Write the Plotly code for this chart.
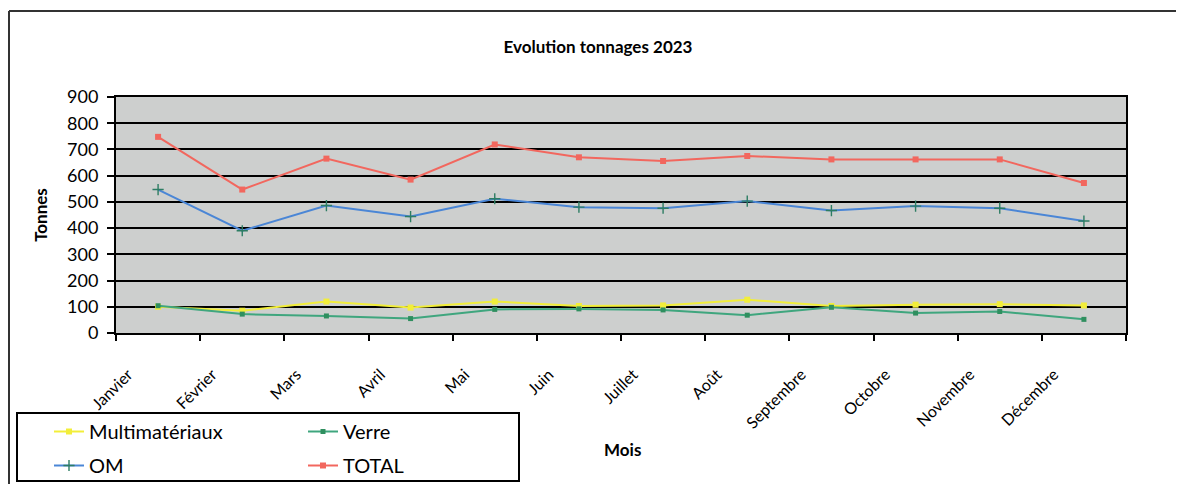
import plotly.graph_objects as go

mois = ["Janvier", "Février", "Mars", "Avril", "Mai", "Juin", "Juillet", "Août",
        "Septembre", "Octobre", "Novembre", "Décembre"]
multimateriaux = [100, 85, 120, 97, 120, 103, 105, 127, 103, 108, 110, 105]
verre = [104, 72, 65, 55, 90, 92, 88, 68, 98, 76, 82, 52]
om = [547, 390, 486, 444, 512, 480, 476, 503, 467, 484, 476, 427]
total = [748, 547, 665, 585, 719, 670, 656, 675, 662, 662, 662, 572]
y_ticks = [0, 100, 200, 300, 400, 500, 600, 700, 800, 900]

# the page body adds an 8px margin, so the figure starts at (8, 8) on screen
OFF = 8
W, H = 1184 - OFF, 484 - OFF
L, T = 116 - OFF, 97 - OFF
R = W - (1126 - OFF)
B = H - (333 - OFF)
PW, PH = W - L - R, H - T - B
FONT = "Lato, Carlito, 'Liberation Sans', sans-serif"


def px(x):
    """screen x (reference pixels) -> paper x"""
    return (x - OFF - L) / PW


def py(y):
    """screen y (reference pixels) -> paper y"""
    return (H - B - (y - OFF)) / PH


fig = go.Figure()
fig.add_trace(go.Scatter(
    x=mois, y=multimateriaux, name="Multimatériaux", mode="lines+markers",
    line=dict(color="#f2ee3a", width=2),
    marker=dict(symbol="square", size=6, color="#f2ee3a"), legend="legend"))
fig.add_trace(go.Scatter(
    x=mois, y=verre, name="Verre", mode="lines+markers",
    line=dict(color="#3fa67e", width=2),
    marker=dict(symbol="square", size=5, color="#2f8f5f"), legend="legend"))
fig.add_trace(go.Scatter(
    x=mois, y=om, name="OM", mode="lines+markers",
    line=dict(color="#4a86d6", width=2),
    marker=dict(symbol="cross-thin", size=8, line=dict(color="#2d7d63", width=1.4)),
    legend="legend2"))
fig.add_trace(go.Scatter(
    x=mois, y=total, name="TOTAL", mode="lines+markers",
    line=dict(color="#f2675e", width=2),
    marker=dict(symbol="square", size=6, color="#f2675e"), legend="legend2"))

fig.update_layout(
    width=W, height=H,
    margin=dict(l=L, r=R, t=T, b=B, autoexpand=False),
    paper_bgcolor="white",
    plot_bgcolor="#cdcfce",
    font=dict(family=FONT, color="black"),
    title=dict(text="<b>Evolution tonnages 2023</b>", xref="container",
               x=(598 - OFF) / W, xanchor="center",
               yref="container", y=1 - (47 - OFF) / H, yanchor="middle",
               font=dict(size=17, family=FONT)),
    showlegend=True,
    legend=dict(orientation="h", x=px(49), xanchor="left", y=py(412), yanchor="top",
                bgcolor="rgba(0,0,0,0)", borderwidth=0, entrywidth=209,
                font=dict(size=20, family=FONT), tracegroupgap=0, itemclick=False),
    legend2=dict(orientation="h", x=px(49), xanchor="left", y=py(446), yanchor="top",
                 bgcolor="rgba(0,0,0,0)", borderwidth=0, entrywidth=209,
                 font=dict(size=20, family=FONT), tracegroupgap=0, itemclick=False),
    xaxis=dict(
        type="category", tickson="boundaries", ticks="outside", ticklen=6,
        tickwidth=2, tickcolor="black", showline=True, linecolor="black",
        linewidth=2, mirror=True, showgrid=False, tickangle=-45,
        tickfont=dict(size=16, family=FONT), ticklabelshift=-30,
        ticklabelstandoff=24,
        range=[-0.5, 11.5],
    ),
    yaxis=dict(
        range=[0, 900], tickvals=y_ticks, ticks="outside", ticklen=7, tickwidth=2,
        tickcolor="black", showline=True, linecolor="black", linewidth=2,
        mirror=True, showgrid=True, gridcolor="black", gridwidth=2,
        zeroline=False, tickfont=dict(size=18, family=FONT),
        ticklabelstandoff=5,
        title=dict(text="<b>Tonnes</b>", font=dict(size=17, family=FONT), standoff=15),
    ),
)

# legend frame and outer chart frame
fig.add_shape(type="rect", xref="paper", yref="paper",
              x0=px(17), x1=px(519), y0=py(481), y1=py(413),
              line=dict(color="black", width=2), fillcolor="rgba(0,0,0,0)")
fig.add_shape(type="line", xref="paper", yref="paper",
              x0=px(9), x1=px(9), y0=py(490), y1=py(11),
              line=dict(color="#333333", width=2))
fig.add_shape(type="line", xref="paper", yref="paper",
              x0=px(9), x1=px(1200), y0=py(11), y1=py(11),
              line=dict(color="#333333", width=2))

fig.add_annotation(text="<b>Mois</b>", xref="paper", yref="paper",
                   x=px(622), y=py(462), showarrow=False,
                   font=dict(size=17, family=FONT))

fig.write_html("out.html")
